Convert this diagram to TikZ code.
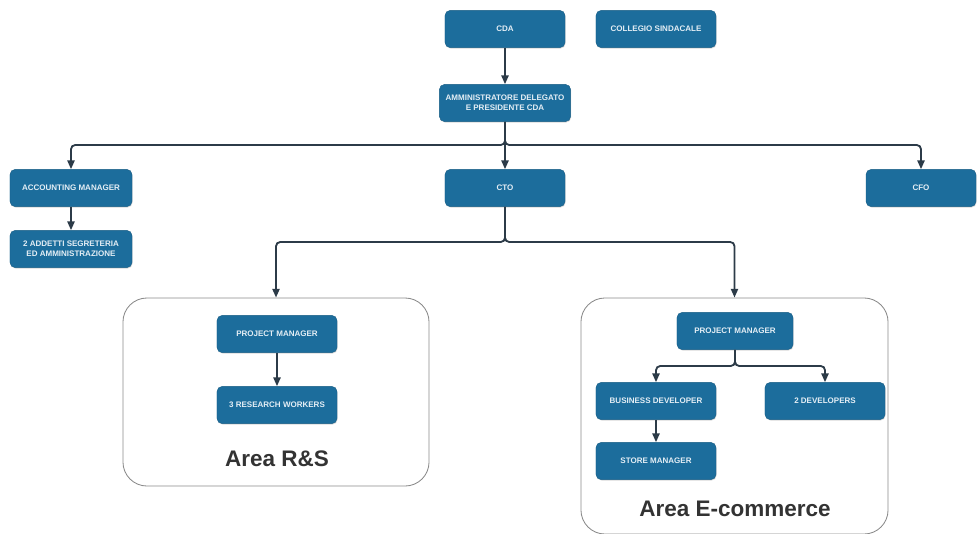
\documentclass[tikz,border=0pt]{standalone}
\usepackage{fontspec}
\setsansfont{Liberation Sans}
\usepackage{tikz}
\usetikzlibrary{arrows.meta,positioning,shadows}
\definecolor{boxblue}{HTML}{1C6D9C}
\definecolor{boxtext}{HTML}{E4EEF5}
\definecolor{linkdark}{HTML}{2C3B48}
\definecolor{areagray}{HTML}{8A8A8A}
\definecolor{titlegray}{HTML}{333333}

\begin{document}
\begin{tikzpicture}[x=0.025cm, y=-0.025cm,
    orgbox/.style={rectangle, rounded corners=1.3mm, fill=boxblue, draw=boxblue!85!black, line width=0.3pt,
        minimum width=3cm, minimum height=0.93cm, align=center,
        font=\sffamily\bfseries\fontsize{5.7}{7}\selectfont, text=boxtext,
        drop shadow={shadow xshift=0.4pt, shadow yshift=-0.7pt, opacity=0.3}},
    areabox/.style={rectangle, rounded corners=6mm, draw=areagray, line width=0.6pt, fill=white},
    areatitle/.style={font=\sffamily\bfseries\fontsize{16}{18}\selectfont, text=titlegray},
    conn/.style={draw=linkdark, line width=1.3pt, rounded corners=3pt, -{Triangle[length=2.2mm,width=1.8mm]}}]

    \useasboundingbox (0,0) rectangle (977,533);

    % Top level
    \node[orgbox] (cda) at (505,29) {CDA};
    \node[orgbox] (collegio) at (656,29) {COLLEGIO SINDACALE};
    \node[orgbox, minimum width=3.28cm] (ad) at (505,103) {AMMINISTRATORE DELEGATO\\E PRESIDENTE CDA};

    % Second level
    \node[orgbox, minimum width=3.05cm] (acc) at (71,188) {ACCOUNTING MANAGER};
    \node[orgbox, minimum width=3.05cm] (addetti) at (71,249) {2 ADDETTI SEGRETERIA\\ED AMMINISTRAZIONE};
    \node[orgbox] (cto) at (505,188) {CTO};
    \node[orgbox, minimum width=2.75cm] (cfo) at (921,188) {CFO};

    % Areas
    \node[areabox, minimum width=7.65cm, minimum height=4.7cm] (rs) at (276,392) {};
    \node[areabox, minimum width=7.675cm, minimum height=5.9cm] (ec) at (734.5,416) {};

    % Area R&S
    \node[orgbox] (rspm) at (277,334) {PROJECT MANAGER};
    \node[orgbox] (rsworkers) at (277,405) {3 RESEARCH WORKERS};
    \node[areatitle] (rstitle) at (277,459) {Area R\&S};

    % Area E-commerce
    \node[orgbox, minimum width=2.9cm] (ecpm) at (735,331) {PROJECT MANAGER};
    \node[orgbox] (bizdev) at (656,401) {BUSINESS DEVELOPER};
    \node[orgbox] (devs) at (825,401) {2 DEVELOPERS};
    \node[orgbox] (store) at (656,461) {STORE MANAGER};
    \node[areatitle] (ectitle) at (735,509) {Area E-commerce};

    % Junction points
    \coordinate (adhub) at (505,145);
    \coordinate (ctohub) at (505,242);
    \coordinate (pmhub) at (735,366);

    % Connectors
    \draw[conn] (cda) -- (ad);
    \draw[conn] (ad) -- (cto);
    \draw[conn] (ad.south) -- (adhub) -| (acc.north);
    \draw[conn] (ad.south) -- (adhub) -| (cfo.north);
    \draw[conn] (acc) -- (addetti);
    \draw[conn] (cto.south) -- (ctohub) -| (rs.north);
    \draw[conn] (cto.south) -- (ctohub) -| (ec.north);
    \draw[conn] (rspm) -- (rsworkers);
    \draw[conn] (ecpm.south) -- (pmhub) -| (bizdev.north);
    \draw[conn] (ecpm.south) -- (pmhub) -| (devs.north);
    \draw[conn] (bizdev) -- (store);
\end{tikzpicture}
\end{document}
